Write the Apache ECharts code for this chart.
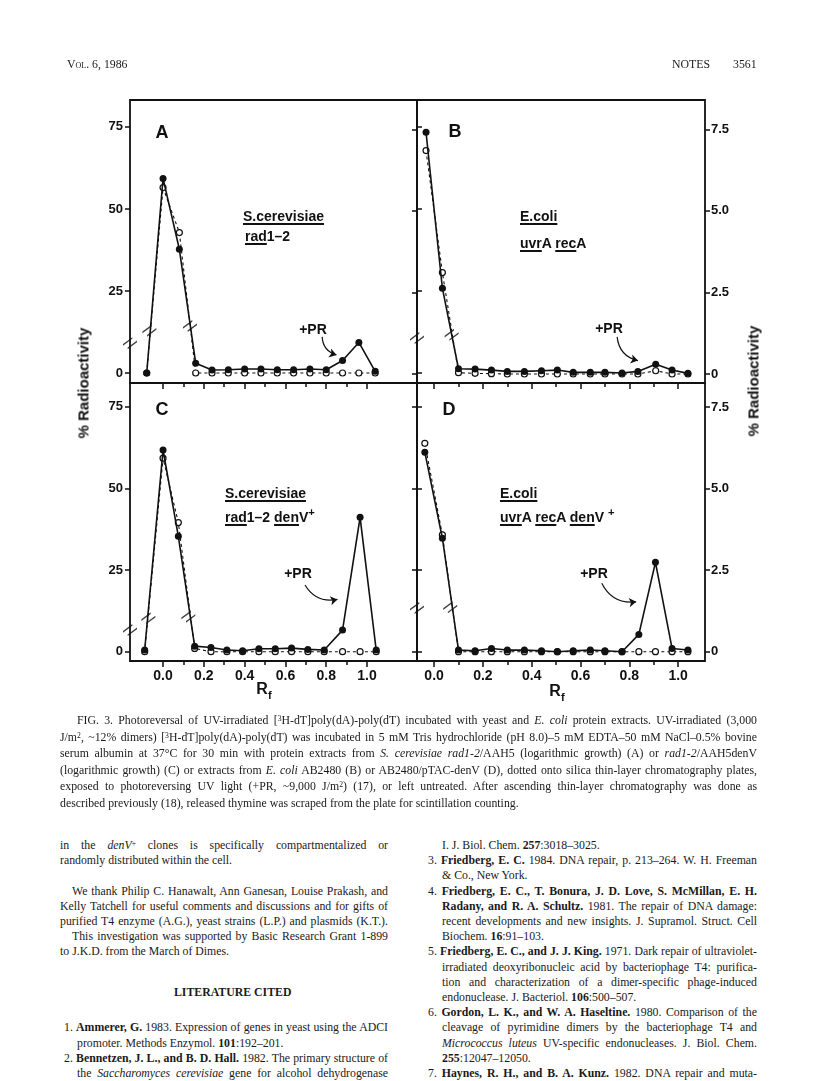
<!DOCTYPE html>
<html>
<head>
<meta charset="utf-8">
<script src="https://cdn.jsdelivr.net/npm/echarts@6/dist/echarts.min.js"></script>
<style>
html, body { margin: 0; padding: 0; background: #fff; }
#page { position: relative; width: 816px; height: 1081px; overflow: hidden; background: #fff; }
#chart { position: absolute; left: 0; top: 0; width: 816px; height: 720px; }
.fig { position: absolute; white-space: nowrap; color: #111; font-family: "Liberation Sans", Arial, sans-serif; font-weight: bold; }
.fig u { text-decoration-thickness: 1.6px; text-underline-offset: 2px; }
.fig sup { font-size: 0.8em; vertical-align: 0.5em; line-height: 0; }
.ln { position: absolute; white-space: nowrap; font-family: "Liberation Serif", "DejaVu Serif", serif; font-size: 11.8px; line-height: 14px; color: #1a1a1a; }
.ln sup { font-size: 0.65em; vertical-align: 0.45em; line-height: 0; }
.j { text-align: justify; text-align-last: justify; }
.sc { font-variant: small-caps; }
</style>
</head>
<body>
<div id="page">
  <div id="chart"></div>
</div>
<script>
// ---- data ----
// A: S. cerevisiae rad1-2 (left scale, %)
const xA = [-0.08, 0.0, 0.08, 0.16, 0.24, 0.32, 0.40, 0.48, 0.56, 0.64, 0.72, 0.80, 0.88, 0.96, 1.04]
const prA = [0, 59.3, 37.7, 3.0, 0.9, 1.0, 1.2, 1.2, 1.0, 1.0, 1.2, 1.0, 3.8, 9.3, 0.5]
const noPrA = [0, 56.5, 42.8, 0, 0, 0, 0, 0, 0, 0, 0, 0, 0, 0, 0]

// B: E. coli uvrA recA (right scale, %)
const xB = [-0.033, 0.034, 0.10, 0.168, 0.235, 0.30, 0.37, 0.44, 0.505, 0.57, 0.64, 0.70, 0.77, 0.835, 0.908, 0.975, 1.04]
const prB = [7.41, 2.63, 0.16, 0.15, 0.12, 0.08, 0.08, 0.10, 0.12, 0.05, 0.05, 0.05, 0.03, 0.08, 0.30, 0.12, 0.02]
const noPrB = [6.85, 3.11, 0.04, 0.02, 0.01, 0, 0, 0, 0, 0, 0, 0, 0, 0, 0.10, 0, 0]

// C: S. cerevisiae rad1-2 denV+
const xC = [-0.09, 0.0, 0.075, 0.155, 0.235, 0.313, 0.39, 0.47, 0.55, 0.63, 0.71, 0.79, 0.88, 0.966, 1.045]
const prC = [0.5, 61.7, 35.3, 1.7, 1.3, 0.5, 0.3, 0.9, 0.9, 1.1, 0.7, 0.5, 6.6, 41.1, 0.5]
const noPrC = [0, 59.2, 39.5, 1.0, 0, 0, 0, 0, 0, 0, 0, 0, 0, 0, 0]

// D: E. coli uvrA recA denV+
const xD = [-0.038, 0.034, 0.10, 0.168, 0.235, 0.30, 0.37, 0.44, 0.505, 0.57, 0.64, 0.70, 0.77, 0.839, 0.907, 0.975, 1.04]
const prD = [6.12, 3.48, 0.05, 0.03, 0.10, 0.05, 0.05, 0.03, 0, 0.03, 0.05, 0.03, 0, 0.53, 2.74, 0.10, 0.05]
const noPrD = [6.39, 3.58, 0, 0, 0, 0, 0, 0, 0, 0, 0, 0, 0, 0, 0, 0, 0]

// axis breaks (//) and +PR arrows, in data units
const breaksA = [[-0.162, 9.1], [-0.067, 12.9], [0.132, 14.3]]
const breaksB = [[-0.07, 1.1], [0.072, 1.2]]
const breaksC = [[-0.162, 6.6], [-0.072, 10.2], [0.124, 10.7]]
const breaksD = [[-0.07, 1.34], [0.066, 1.36]]
const arrowA = [[0.78, 11.0], [0.85, 5.5]]
const arrowB = [[0.75, 1.14], [0.835, 0.41]]
const arrowC = [[0.696, 20.4], [0.855, 16.0]]
const arrowD = [[0.687, 2.1], [0.828, 1.53]]

// ticks
const xMajor = [0, 0.2, 0.4, 0.6, 0.8, 1.0]
const xMinor = [0.1, 0.3, 0.5, 0.7, 0.9]
const yTicksPct = [0, 25, 50, 75]
const yTicksSmall = [0, 2.5, 5, 7.5]

// ---- chart ----
const chart = echarts.init(document.getElementById('chart'))

const grids = [
  { left: 130, top: 100, width: 287, height: 283 },
  { left: 417, top: 100, width: 288, height: 283 },
  { left: 130, top: 383, width: 287, height: 278 },
  { left: 417, top: 383, width: 288, height: 278 }
]
const xRange = [[-0.162, 1.245], [-0.07, 1.11], [-0.162, 1.245], [-0.07, 1.11]]
const yRange = [[-3.05, 83.2], [-0.276, 8.40], [-2.85, 82.2], [-0.285, 8.24]]
const panels = [
  { x: xA, pr: prA, no: noPrA, br: breaksA, ar: arrowA, yt: yTicksPct },
  { x: xB, pr: prB, no: noPrB, br: breaksB, ar: arrowB, yt: yTicksSmall },
  { x: xC, pr: prC, no: noPrC, br: breaksC, ar: arrowC, yt: yTicksPct },
  { x: xD, pr: prD, no: noPrD, br: breaksD, ar: arrowD, yt: yTicksSmall }
]

const ink = '#111'
const labelFont = { color: ink, fontFamily: 'Liberation Sans', fontWeight: 'bold', fontSize: 13 }
const breakPath = 'path://M0 8 L10 0 L10 2 L0 10 Z M5 12 L15 4 L15 6 L5 14 Z'
const noLine = { show: false, onZero: false }

const xAxes = []
const yAxes = []
const series = []

panels.forEach((p, i) => {
  const bottomRow = i >= 2
  const rightCol = i % 2 === 1
  xAxes.push({
    gridIndex: i, type: 'value', min: xRange[i][0], max: xRange[i][1], position: 'bottom',
    axisLine: noLine, splitLine: { show: false },
    axisTick: { show: true, customValues: xMajor, length: 6, lineStyle: { color: ink, width: 1.5 } },
    axisLabel: Object.assign({ show: bottomRow, customValues: xMajor, margin: 8,
      formatter: v => v.toFixed(1) }, labelFont, { fontSize: 14 })
  })
  xAxes.push({
    gridIndex: i, type: 'value', min: xRange[i][0], max: xRange[i][1], position: 'bottom',
    axisLine: noLine, splitLine: { show: false },
    axisTick: { show: true, customValues: xMinor, length: 4, lineStyle: { color: ink, width: 1.5 } },
    axisLabel: { show: false }
  })
  yAxes.push({
    gridIndex: i, type: 'value', min: yRange[i][0], max: yRange[i][1], position: 'left',
    axisLine: noLine, splitLine: { show: false },
    axisTick: { show: true, customValues: p.yt, length: 5, lineStyle: { color: ink, width: 1.5 } },
    axisLabel: Object.assign({ show: !rightCol, customValues: p.yt, margin: 7 }, labelFont)
  })
  yAxes.push({
    gridIndex: i, type: 'value', min: yRange[i][0], max: yRange[i][1], position: 'right',
    axisLine: noLine, splitLine: { show: false },
    axisTick: { show: true, customValues: p.yt, length: 5, lineStyle: { color: ink, width: 1.5 } },
    axisLabel: Object.assign({ show: rightCol, customValues: p.yt, margin: 6,
      formatter: v => (v === 0 ? '0' : v.toFixed(1)) }, labelFont)
  })

  // untreated: open circles, dashed line
  series.push({
    type: 'line', xAxisIndex: 2 * i, yAxisIndex: 2 * i,
    data: p.x.map((x, k) => [x, p.no[k]]),
    symbol: 'circle', symbolSize: 6, showAllSymbol: true,
    itemStyle: { color: '#fff', borderColor: ink, borderWidth: 1.2 },
    lineStyle: { color: ink, width: 1.1, type: [3, 3] },
    z: 2, silent: true, animation: false
  })
  // +PR: filled circles, solid line
  series.push({
    type: 'line', xAxisIndex: 2 * i, yAxisIndex: 2 * i,
    data: p.x.map((x, k) => [x, p.pr[k]]),
    symbol: 'circle', symbolSize: 7, showAllSymbol: true,
    itemStyle: { color: ink },
    lineStyle: { color: ink, width: 1.6 },
    z: 3, silent: true, animation: false
  })
  // break marks
  series.push({
    type: 'scatter', xAxisIndex: 2 * i, yAxisIndex: 2 * i,
    data: p.br, symbol: breakPath, symbolSize: [14, 12],
    itemStyle: { color: ink }, clip: false, z: 4, silent: true, animation: false
  })
  // +PR arrow
  series.push({
    type: 'lines', coordinateSystem: 'cartesian2d', xAxisIndex: 2 * i, yAxisIndex: 2 * i,
    data: [{ coords: p.ar }],
    symbol: ['none', 'arrow'], symbolSize: 7,
    lineStyle: { color: ink, width: 1.2, opacity: 1, curveness: -0.35 },
    z: 5, silent: true, animation: false
  })
})

chart.setOption({
  backgroundColor: '#fff',
  animation: false,
  grid: grids.map(g => Object.assign({ show: true, borderColor: ink, borderWidth: 1.8, backgroundColor: 'transparent' }, g)),
  xAxis: xAxes,
  yAxis: yAxes,
  series: series
})

// ---- text on the figure ----
const page = document.getElementById('page')
function put(html, x, y, size, anchor, extra) {
  const d = document.createElement('div')
  d.className = 'fig'
  d.innerHTML = html
  d.style.fontSize = size + 'px'
  d.style.lineHeight = size + 'px'
  d.style.left = x + 'px'
  d.style.top = y + 'px'
  d.style.transform = (anchor === 'c' ? 'translate(-50%,-50%)' : 'translate(0,-50%)') + (extra || '')
  page.appendChild(d)
  return d
}
put('A', 162, 132, 18, 'c')
put('B', 455, 131, 18, 'c')
put('C', 162, 409, 18, 'c')
put('D', 449, 409, 18, 'c')
put('<u>S.cerevisiae</u>', 243, 216, 14, 'l')
put('<u>rad</u>1–2', 245, 236, 14, 'l')
put('<u>E.coli</u>', 520, 216, 14, 'l')
put('<u>uvr</u>A <u>rec</u>A', 520, 243, 14, 'l')
put('<u>S.cerevisiae</u>', 225, 493, 14, 'l')
put('<u>rad</u>1–2 <u>den</u>V<sup>+</sup>', 225, 517, 14, 'l')
put('<u>E.coli</u>', 500, 493, 14, 'l')
put('<u>uvr</u>A <u>rec</u>A <u>den</u>V <sup>+</sup>', 500, 517, 14, 'l')
put('+PR', 313, 329, 14, 'c')
put('+PR', 609, 328, 14, 'c')
put('+PR', 298, 573, 14, 'c')
put('+PR', 594, 573, 14, 'c')
put('R<sub style="font-size:0.7em">f</sub>', 264, 692, 16, 'c')
put('R<sub style="font-size:0.7em">f</sub>', 557, 694, 16, 'c')
put('% Radioactivity', 83, 383, 15, 'c', ' rotate(-90deg)')
put('% Radioactivity', 753, 381, 15, 'c', ' rotate(-90deg)')

// ---- page text ----
const headerLines = [
  { x: 67, y: 64, html: '<span class="sc">Vol</span>. 6, 1986' },
  { x: 672, y: 64, html: 'NOTES' },
  { x: 733, y: 64, html: '3561' }
]
const captionLines = [
  { x: 77, w: 680, j: 1, html: 'FIG. 3. Photoreversal of UV-irradiated [<sup>3</sup>H-dT]poly(dA)-poly(dT) incubated with yeast and <i>E. coli</i> protein extracts. UV-irradiated (3,000' },
  { x: 60, w: 697, j: 1, html: 'J/m<sup>2</sup>, ~12% dimers) [<sup>3</sup>H-dT]poly(dA)-poly(dT) was incubated in 5 mM Tris hydrochloride (pH 8.0)–5 mM EDTA–50 mM NaCl–0.5% bovine' },
  { x: 60, w: 697, j: 1, html: 'serum albumin at 37°C for 30 min with protein extracts from <i>S. cerevisiae rad1-2</i>/AAH5 (logarithmic growth) (A) or <i>rad1-2</i>/AAH5denV' },
  { x: 60, w: 697, j: 1, html: '(logarithmic growth) (C) or extracts from <i>E. coli</i> AB2480 (B) or AB2480/pTAC-denV (D), dotted onto silica thin-layer chromatography plates,' },
  { x: 60, w: 697, j: 1, html: 'exposed to photoreversing UV light (+PR, ~9,000 J/m<sup>2</sup>) (17), or left untreated. After ascending thin-layer chromatography was done as' },
  { x: 60, w: 697, j: 0, html: 'described previously (18), released thymine was scraped from the plate for scintillation counting.' }
]
const leftCol = [
  { s: 0, x: 60, w: 328, j: 1, html: 'in the <i>denV</i><sup>+</sup> clones is specifically compartmentalized or' },
  { s: 1, x: 60, w: 328, j: 0, html: 'randomly distributed within the cell.' },
  { s: 3, x: 72, w: 316, j: 1, html: 'We thank Philip C. Hanawalt, Ann Ganesan, Louise Prakash, and' },
  { s: 4, x: 60, w: 328, j: 1, html: 'Kelly Tatchell for useful comments and discussions and for gifts of' },
  { s: 5, x: 60, w: 328, j: 1, html: 'purified T4 enzyme (A.G.), yeast strains (L.P.) and plasmids (K.T.).' },
  { s: 6, x: 72, w: 316, j: 1, html: 'This investigation was supported by Basic Research Grant 1-899' },
  { s: 7, x: 60, w: 328, j: 0, html: 'to J.K.D. from the March of Dimes.' },
  { s: 9.7, x: 174, w: 0, j: 0, html: '<b>LITERATURE CITED</b>' },
  { s: 12, x: 64, w: 324, j: 1, html: '1. <b>Ammerer, G.</b> 1983. Expression of genes in yeast using the ADCI' },
  { s: 13, x: 77, w: 311, j: 0, html: 'promoter. Methods Enzymol. <b>101</b>:192–201.' },
  { s: 14, x: 64, w: 324, j: 1, html: '2. <b>Bennetzen, J. L., and B. D. Hall.</b> 1982. The primary structure of' },
  { s: 15, x: 77, w: 311, j: 1, html: 'the <i>Saccharomyces cerevisiae</i> gene for alcohol dehydrogenase' }
]
const rightCol = [
  { s: 0, x: 442, w: 315, j: 0, html: 'I. J. Biol. Chem. <b>257</b>:3018–3025.' },
  { s: 1, x: 428, w: 329, j: 1, html: '3. <b>Friedberg, E. C.</b> 1984. DNA repair, p. 213–264. W. H. Freeman' },
  { s: 2, x: 442, w: 315, j: 0, html: '&amp; Co., New York.' },
  { s: 3, x: 428, w: 329, j: 1, html: '4. <b>Friedberg, E. C., T. Bonura, J. D. Love, S. McMillan, E. H.</b>' },
  { s: 4, x: 442, w: 315, j: 1, html: '<b>Radany, and R. A. Schultz.</b> 1981. The repair of DNA damage:' },
  { s: 5, x: 442, w: 315, j: 1, html: 'recent developments and new insights. J. Supramol. Struct. Cell' },
  { s: 6, x: 442, w: 315, j: 0, html: 'Biochem. <b>16</b>:91–103.' },
  { s: 7, x: 428, w: 329, j: 1, html: '5. <b>Friedberg, E. C., and J. J. King.</b> 1971. Dark repair of ultraviolet-' },
  { s: 8, x: 442, w: 315, j: 1, html: 'irradiated deoxyribonucleic acid by bacteriophage T4: purifica-' },
  { s: 9, x: 442, w: 315, j: 1, html: 'tion and characterization of a dimer-specific phage-induced' },
  { s: 10, x: 442, w: 315, j: 0, html: 'endonuclease. J. Bacteriol. <b>106</b>:500–507.' },
  { s: 11, x: 428, w: 329, j: 1, html: '6. <b>Gordon, L. K., and W. A. Haseltine.</b> 1980. Comparison of the' },
  { s: 12, x: 442, w: 315, j: 1, html: 'cleavage of pyrimidine dimers by the bacteriophage T4 and' },
  { s: 13, x: 442, w: 315, j: 1, html: '<i>Micrococcus luteus</i> UV-specific endonucleases. J. Biol. Chem.' },
  { s: 14, x: 442, w: 315, j: 0, html: '<b>255</b>:12047–12050.' },
  { s: 15, x: 428, w: 329, j: 1, html: '7. <b>Haynes, R. H., and B. A. Kunz.</b> 1982. DNA repair and muta-' }
]

function line(l, yc) {
  const d = document.createElement('div')
  d.className = 'ln' + (l.j ? ' j' : '')
  d.innerHTML = l.html
  d.style.left = l.x + 'px'
  d.style.top = (yc - 7) + 'px'
  page.appendChild(d)
  // squeeze lines that are too wide, stretch justified ones to the column
  const nat = d.offsetWidth
  if (l.w && nat > l.w) {
    d.style.width = nat + 'px'
    d.style.transformOrigin = 'left center'
    d.style.transform = 'scaleX(' + (l.w / nat) + ')'
  } else if (l.w && l.j) {
    d.style.width = l.w + 'px'
  }
}
headerLines.forEach(l => line(Object.assign({ w: 0, j: 0 }, l), l.y))
captionLines.forEach((l, k) => line(l, 720 + k * 16.6))
leftCol.forEach(l => line(l, 845 + l.s * 15.2))
rightCol.forEach(l => line(l, 845 + l.s * 15.2))
</script>
</body>
</html>
